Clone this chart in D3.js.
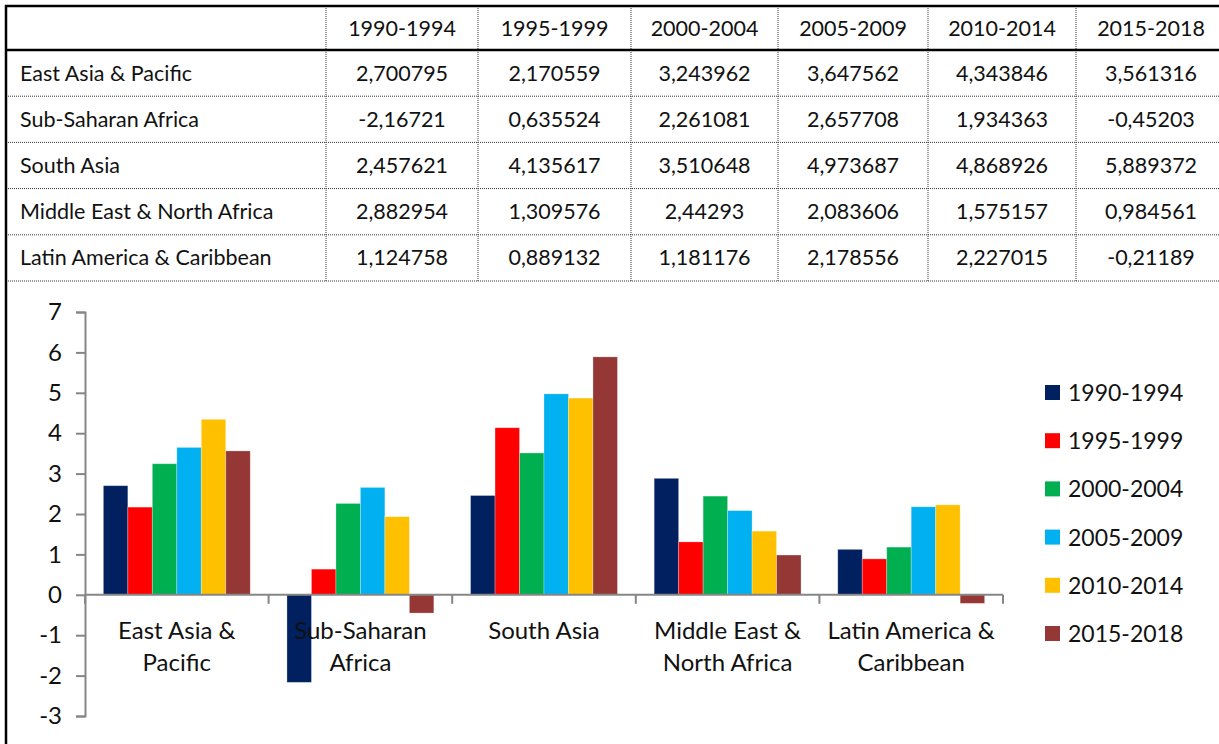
<!DOCTYPE html>
<html>
<head>
<meta charset="utf-8">
<script src="https://cdn.jsdelivr.net/npm/d3@7"></script>
<style>
  html, body { margin: 0; padding: 0; background: #fff; }
  svg { display: block; }
</style>
</head>
<body>
<svg id="chart" width="1219" height="744"></svg>
<script>
// Regions (rows / x categories)
const regions = [
  "East Asia & Pacific",
  "Sub-Saharan Africa",
  "South Asia",
  "Middle East & North Africa",
  "Latin America & Caribbean"
];
// Two-line category labels for the chart axis
const regionLabels = [
  ["East Asia &", "Pacific"],
  ["Sub-Saharan", "Africa"],
  ["South Asia"],
  ["Middle East &", "North Africa"],
  ["Latin America &", "Caribbean"]
];
// Periods (series)
const periods = ["1990-1994", "1995-1999", "2000-2004", "2005-2009", "2010-2014", "2015-2018"];
const periodColors = ["#002060", "#FF0000", "#00B050", "#00B0F0", "#FFC000", "#953735"];

// Values per period, one entry per region
const p1990 = [2.700795, -2.16721, 2.457621, 2.882954, 1.124758];
const p1995 = [2.170559, 0.635524, 4.135617, 1.309576, 0.889132];
const p2000 = [3.243962, 2.261081, 3.510648, 2.44293, 1.181176];
const p2005 = [3.647562, 2.657708, 4.973687, 2.083606, 2.178556];
const p2010 = [4.343846, 1.934363, 4.868926, 1.575157, 2.227015];
const p2015 = [3.561316, -0.45203, 5.889372, 0.984561, -0.21189];
const series = [p1990, p1995, p2000, p2005, p2010, p2015];

// Table cell text (as printed, decimal comma)
const tableText = [
  ["2,700795", "2,170559", "3,243962", "3,647562", "4,343846", "3,561316"],
  ["-2,16721", "0,635524", "2,261081", "2,657708", "1,934363", "-0,45203"],
  ["2,457621", "4,135617", "3,510648", "4,973687", "4,868926", "5,889372"],
  ["2,882954", "1,309576", "2,44293", "2,083606", "1,575157", "0,984561"],
  ["1,124758", "0,889132", "1,181176", "2,178556", "2,227015", "-0,21189"]
];

const yTicks = [-3, -2, -1, 0, 1, 2, 3, 4, 5, 6, 7];

const svg = d3.select("#chart");
const W = 1219, H = 744;

// ---------------- Table ----------------
const tableFont = "Lato, 'Noto Sans', sans-serif";
const tableSize = 21.5;
const colEdges = [6, 326, 478, 631, 778, 928, 1076, 1226];
const headerTop = 6, headerBottom = 50;
const rowH = 46.2;
const table = svg.append("g").attr("class", "table");

// dotted row lines
regions.forEach((r, i) => {
  const y = headerBottom + rowH * (i + 1);
  table.append("line")
    .attr("x1", colEdges[0]).attr("x2", W)
    .attr("y1", y).attr("y2", y)
    .attr("stroke", "#333").attr("stroke-width", 1)
    .attr("stroke-dasharray", "1,1");
});
// dotted column lines
colEdges.slice(1, -1).forEach(x => {
  table.append("line")
    .attr("x1", x).attr("x2", x)
    .attr("y1", headerTop).attr("y2", headerBottom + rowH * regions.length)
    .attr("stroke", "#333").attr("stroke-width", 1)
    .attr("stroke-dasharray", "1,1");
});
// solid borders
table.append("line").attr("x1", 5).attr("x2", W).attr("y1", headerTop).attr("y2", headerTop)
  .attr("stroke", "#000").attr("stroke-width", 2.5);
table.append("line").attr("x1", 5).attr("x2", W).attr("y1", headerBottom).attr("y2", headerBottom)
  .attr("stroke", "#000").attr("stroke-width", 2.5);
svg.append("line").attr("x1", 6).attr("x2", 6).attr("y1", 5).attr("y2", H)
  .attr("stroke", "#000").attr("stroke-width", 2.5);

// header text
periods.forEach((p, j) => {
  table.append("text")
    .attr("x", (colEdges[j + 1] + colEdges[j + 2]) / 2)
    .attr("y", (headerTop + headerBottom) / 2 + 7.5)
    .attr("text-anchor", "middle")
    .attr("font-family", tableFont).attr("font-size", tableSize)
    .attr("fill", "#111")
    .text(p);
});
// body rows
regions.forEach((r, i) => {
  const cy = headerBottom + rowH * i + rowH / 2 + 7.5;
  table.append("text")
    .attr("x", 20).attr("y", cy)
    .attr("font-family", tableFont).attr("font-size", tableSize)
    .attr("fill", "#111")
    .text(r);
  tableText[i].forEach((t, j) => {
    table.append("text")
      .attr("x", (colEdges[j + 1] + colEdges[j + 2]) / 2)
      .attr("y", cy)
      .attr("text-anchor", "middle")
      .attr("font-family", tableFont).attr("font-size", tableSize)
      .attr("fill", "#111")
      .text(t);
  });
});

// ---------------- Bar chart ----------------
const chartFont = "Lato, 'Liberation Sans', sans-serif";
const plotLeft = 85, plotRight = 1003, plotTop = 312, plotBottom = 716;

const y = d3.scaleLinear().domain([-3, 7]).range([plotBottom, plotTop]);
const x0 = d3.scaleBand().domain(regions).range([plotLeft, plotRight]).paddingInner(0).paddingOuter(0);
// six bars plus a 150% gap per category
const x1 = d3.scaleBand().domain(periods).range([0, x0.bandwidth()]).paddingInner(0).paddingOuter(0.75);

const chart = svg.append("g").attr("class", "chart");

// bars
periods.forEach((p, s) => {
  chart.append("g").selectAll("rect")
    .data(regions.map((r, i) => ({ r, v: series[s][i] })))
    .join("rect")
    .attr("x", d => x0(d.r) + x1(p))
    .attr("width", x1.bandwidth())
    .attr("y", d => Math.min(y(d.v), y(0)))
    .attr("height", d => Math.abs(y(d.v) - y(0)))
    .attr("fill", periodColors[s])
    .attr("stroke", "rgba(255,255,255,0.35)")
    .attr("stroke-width", 0.8);
});

// y axis
const yAxis = d3.axisLeft(y).tickValues(yTicks).tickSize(9).tickPadding(14).tickFormat(d3.format("d"));
const yg = chart.append("g").attr("transform", `translate(${plotLeft},0)`).call(yAxis);
yg.select(".domain").attr("stroke", "#868686").attr("stroke-width", 2);
yg.selectAll(".tick line").attr("stroke", "#868686").attr("stroke-width", 2);
yg.selectAll(".tick text")
  .attr("font-family", chartFont).attr("font-size", 24).attr("fill", "#111")
  .text(d => d < 0 ? "-" + Math.abs(d) : d);

// x axis at zero
const xEdges = regions.map(r => x0(r)).concat([plotRight]);
const xg = chart.append("g");
xg.append("line")
  .attr("x1", plotLeft).attr("x2", plotRight)
  .attr("y1", y(0)).attr("y2", y(0))
  .attr("stroke", "#868686").attr("stroke-width", 2);
xg.selectAll("line.xt").data(xEdges).join("line").attr("class", "xt")
  .attr("x1", d => d).attr("x2", d => d)
  .attr("y1", y(0)).attr("y2", y(0) + 9)
  .attr("stroke", "#868686").attr("stroke-width", 2);

// category labels
regions.forEach((r, i) => {
  const t = xg.append("text")
    .attr("x", x0(r) + x0.bandwidth() / 2)
    .attr("y", 639)
    .attr("text-anchor", "middle")
    .attr("font-family", chartFont).attr("font-size", 24).attr("fill", "#111");
  regionLabels[i].forEach((line, k) => {
    t.append("tspan")
      .attr("x", x0(r) + x0.bandwidth() / 2)
      .attr("dy", k === 0 ? 0 : 32)
      .text(line);
  });
});

// legend
const legend = svg.append("g").attr("transform", "translate(1045,393)");
periods.forEach((p, s) => {
  const g = legend.append("g").attr("transform", `translate(0,${s * 48.2})`);
  g.append("rect").attr("x", 0).attr("y", -8).attr("width", 15).attr("height", 15)
    .attr("fill", periodColors[s]);
  g.append("text").attr("x", 23).attr("y", 8)
    .attr("font-family", chartFont).attr("font-size", 23).attr("fill", "#111")
    .text(p);
});
</script>
</body>
</html>
